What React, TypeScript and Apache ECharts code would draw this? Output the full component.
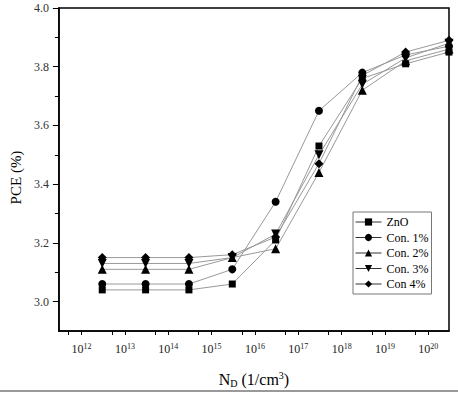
import React, { useEffect, useRef } from "react";
import * as echarts from "echarts";

const ndValues = [3e12, 3e13, 3e14, 3e15, 3e16, 3e17, 3e18, 3e19, 3e20];
const seriesNames = ["ZnO", "Con. 1%", "Con. 2%", "Con. 3%", "Con 4%"];
const zno = [3.04, 3.04, 3.04, 3.06, 3.21, 3.53, 3.76, 3.81, 3.85];
const con1 = [3.06, 3.06, 3.06, 3.11, 3.34, 3.65, 3.78, 3.84, 3.87];
const con2 = [3.11, 3.11, 3.11, 3.15, 3.18, 3.44, 3.72, 3.82, 3.86];
const con3 = [3.13, 3.13, 3.13, 3.15, 3.23, 3.5, 3.74, 3.83, 3.88];
const con4 = [3.15, 3.15, 3.15, 3.16, 3.22, 3.47, 3.77, 3.85, 3.89];
const decadeExponents = [12, 13, 14, 15, 16, 17, 18, 19, 20];
const yMajorTicks = [3.0, 3.2, 3.4, 3.6, 3.8, 4.0];
const yMinorTicks = [3.1, 3.3, 3.5, 3.7, 3.9];

const FONT = "'Liberation Serif', 'Times New Roman', serif";

export default function App() {
  const ref = useRef<HTMLDivElement>(null);
  useEffect(() => {
    if (!ref.current) return;
    const chart = echarts.init(ref.current, undefined, { renderer: "svg" });
    const allSeries = [zno, con1, con2, con3, con4];
    const symbols = ["rect", "circle", "triangle", "triangle", "diamond"];
    const rotates = [0, 0, 0, 180, 0];
    const sizes = [7, 8, 9, 9, 9];
    const xTicks: number[] = [];
    decadeExponents.forEach((e) => {
      xTicks.push(e - 1 + Math.log10(5));
      xTicks.push(e);
    });
    const xMin = Math.log10(3e11);
    const xMax = Math.log10(3e20);
    chart.setOption({
      animation: false,
      textStyle: { fontFamily: FONT },
      grid: {
        left: 51,
        right: 9,
        top: 8,
        bottom: 57,
        show: true,
        borderColor: "#000",
        borderWidth: 1.5,
      },
      legend: {
        orient: "vertical",
        left: 353,
        top: 212,
        padding: [4, 3, 4, 2],
        itemGap: 3.5,
        itemWidth: 26,
        itemHeight: 9,
        itemTextGap: 5,
        borderColor: "#777",
        borderWidth: 1,
        data: seriesNames,
        lineStyle: { color: "#333", width: 1 },
        textStyle: { fontFamily: FONT, fontSize: 12, color: "#000", lineHeight: 12 },
      },
      xAxis: {
        type: "value",
        min: xMin,
        max: xMax,
        name: "{a|N}{sub|D}{a| (1/cm}{sup|3}{a|)}",
        nameLocation: "middle",
        nameGap: 39,
        nameTextStyle: {
          rich: {
            a: { fontFamily: FONT, fontSize: 16, color: "#000", lineHeight: 18 },
            sub: { fontFamily: FONT, fontSize: 10, color: "#000", lineHeight: 8, verticalAlign: "bottom", padding: [8, 0, 0, 0] },
            sup: { fontFamily: FONT, fontSize: 10, color: "#000", lineHeight: 8, verticalAlign: "top" },
          },
        },
        splitLine: { show: false },
        axisLine: { lineStyle: { color: "#000", width: 1.5 } },
        axisTick: { customValues: xTicks, length: 4, lineStyle: { color: "#000" } },
        axisLabel: {
          customValues: decadeExponents,
          margin: 11,
          formatter: (v: number) => `{b|10}{s|${Math.round(v)}}`,
          rich: {
            b: { fontFamily: FONT, fontSize: 12, color: "#222", lineHeight: 14 },
            s: { fontFamily: FONT, fontSize: 8, color: "#222", lineHeight: 8, verticalAlign: "top" },
          },
        },
      },
      yAxis: [
        {
          type: "value",
          min: 2.9,
          max: 4.0,
          name: "PCE (%)",
          nameLocation: "middle",
          nameGap: 33,
          nameTextStyle: { fontFamily: FONT, fontSize: 15, color: "#000", padding: [0, 0, 0, -16] },
          splitLine: { show: false },
          axisLine: { lineStyle: { color: "#000", width: 1.5 } },
          axisTick: { customValues: yMajorTicks, length: 6, lineStyle: { color: "#000" } },
          axisLabel: {
            customValues: yMajorTicks,
            margin: 10,
            fontFamily: FONT,
            fontSize: 12,
            color: "#333",
            formatter: (v: number) => v.toFixed(1),
          },
        },
        {
          type: "value",
          min: 2.9,
          max: 4.0,
          position: "left",
          splitLine: { show: false },
          axisLine: { show: false },
          axisLabel: { show: false },
          axisTick: { customValues: yMinorTicks, length: 4, lineStyle: { color: "#000" } },
        },
      ],
      series: allSeries.map((vals, i) => ({
        name: seriesNames[i],
        type: "line",
        data: ndValues.map((n, j) => [Math.log10(n), vals[j]]),
        symbol: symbols[i],
        symbolRotate: rotates[i],
        symbolSize: sizes[i],
        showAllSymbol: true,
        lineStyle: { color: "#999", width: 1 },
        itemStyle: { color: "#000" },
      })),
      graphic: [
        {
          type: "line",
          shape: { x1: 0, y1: 391, x2: 458, y2: 391 },
          style: { stroke: "#999", lineWidth: 2 },
          silent: true,
        },
      ],
    });
    return () => chart.dispose();
  }, []);
  return (
    <div
      ref={ref}
      style={{ position: "fixed", left: 0, top: 0, width: 458, height: 393, background: "#fff" }}
    />
  );
}
